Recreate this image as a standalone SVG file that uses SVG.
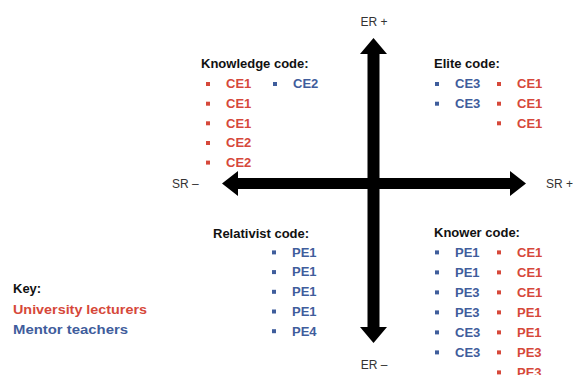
<svg xmlns="http://www.w3.org/2000/svg" width="573" height="375" viewBox="0 0 573 375">
<style>
text{font-family:"Liberation Sans",Arial,sans-serif;}
.h{font-weight:bold;font-size:13px;fill:#111;}
.ax{font-size:12px;fill:#333;}
.r{font-weight:bold;font-size:13px;fill:#D6483A;}
.b{font-weight:bold;font-size:13px;fill:#3F5D9C;}
.rb{fill:#D6483A;}
.bb{fill:#3F5D9C;}
.arrow{fill:#000;}
</style>
<rect width="573" height="375" fill="#fff"/>
<g id="connectors">
<path class="arrow" d="M373.5,38 L387,54 L379.5,54 L379.5,327 L387,327 L373.5,343 L360,327 L367.5,327 L367.5,54 L360,54 Z"/>
<path class="arrow" d="M222,183.5 L238,171 L238,178 L510,178 L510,171 L526,183.5 L510,196 L510,189 L238,189 L238,196 Z"/>
</g>
<g id="axis-labels">
<text class="ax" x="374" y="26" text-anchor="middle">ER +</text>
<text class="ax" x="374" y="369" text-anchor="middle">ER –</text>
<text class="ax" x="172" y="188">SR –</text>
<text class="ax" x="546" y="188">SR +</text>
</g>
<g id="knowledge-code">
<text class="h" x="201" y="68">Knowledge code:</text>
<rect class="rb" x="206" y="82" width="4" height="4"/><text class="r" x="226" y="88.3">CE1</text>
<rect class="bb" x="273" y="82" width="4" height="4"/><text class="b" x="293" y="88.3">CE2</text>
<rect class="rb" x="206" y="101.7" width="4" height="4"/><text class="r" x="226" y="108">CE1</text>
<rect class="rb" x="206" y="121.3" width="4" height="4"/><text class="r" x="226" y="127.6">CE1</text>
<rect class="rb" x="206" y="141" width="4" height="4"/><text class="r" x="226" y="147.3">CE2</text>
<rect class="rb" x="206" y="160.6" width="4" height="4"/><text class="r" x="226" y="166.9">CE2</text>
</g>
<g id="elite-code">
<text class="h" x="434" y="68">Elite code:</text>
<rect class="bb" x="435" y="82" width="4" height="4"/><text class="b" x="455" y="88.3">CE3</text>
<rect class="rb" x="497" y="82" width="4" height="4"/><text class="r" x="517" y="88.3">CE1</text>
<rect class="bb" x="435" y="101.7" width="4" height="4"/><text class="b" x="455" y="108">CE3</text>
<rect class="rb" x="497" y="101.7" width="4" height="4"/><text class="r" x="517" y="108">CE1</text>
<rect class="rb" x="497" y="121.3" width="4" height="4"/><text class="r" x="517" y="127.6">CE1</text>
</g>
<g id="relativist-code">
<text class="h" x="213" y="238">Relativist code:</text>
<rect class="bb" x="272" y="250.4" width="4" height="4"/><text class="b" x="292" y="256.7">PE1</text>
<rect class="bb" x="272" y="270.1" width="4" height="4"/><text class="b" x="292" y="276.4">PE1</text>
<rect class="bb" x="272" y="289.8" width="4" height="4"/><text class="b" x="292" y="296.1">PE1</text>
<rect class="bb" x="272" y="309.5" width="4" height="4"/><text class="b" x="292" y="315.8">PE1</text>
<rect class="bb" x="272" y="329.2" width="4" height="4"/><text class="b" x="292" y="335.5">PE4</text>
</g>
<g id="knower-code">
<text class="h" x="434" y="237">Knower code:</text>
<rect class="bb" x="435" y="250.4" width="4" height="4"/><text class="b" x="455" y="256.7">PE1</text>
<rect class="rb" x="497" y="250.4" width="4" height="4"/><text class="r" x="517" y="256.7">CE1</text>
<rect class="bb" x="435" y="270.4" width="4" height="4"/><text class="b" x="455" y="276.7">PE1</text>
<rect class="rb" x="497" y="270.4" width="4" height="4"/><text class="r" x="517" y="276.7">CE1</text>
<rect class="bb" x="435" y="290.4" width="4" height="4"/><text class="b" x="455" y="296.7">PE3</text>
<rect class="rb" x="497" y="290.4" width="4" height="4"/><text class="r" x="517" y="296.7">CE1</text>
<rect class="bb" x="435" y="310.4" width="4" height="4"/><text class="b" x="455" y="316.7">PE3</text>
<rect class="rb" x="497" y="310.4" width="4" height="4"/><text class="r" x="517" y="316.7">PE1</text>
<rect class="bb" x="435" y="330.4" width="4" height="4"/><text class="b" x="455" y="336.7">CE3</text>
<rect class="rb" x="497" y="330.4" width="4" height="4"/><text class="r" x="517" y="336.7">PE1</text>
<rect class="bb" x="435" y="350.4" width="4" height="4"/><text class="b" x="455" y="356.7">CE3</text>
<rect class="rb" x="497" y="350.4" width="4" height="4"/><text class="r" x="517" y="356.7">PE3</text>
<rect class="rb" x="497" y="370.4" width="4" height="4"/><text class="r" x="517" y="376.7">PE3</text>
</g>
<g id="key">
<text class="h" x="13" y="293">Key:</text>
<text class="r" x="13" y="314" textLength="134" lengthAdjust="spacingAndGlyphs">University lecturers</text>
<text class="b" x="13" y="334" textLength="115" lengthAdjust="spacingAndGlyphs">Mentor teachers</text>
</g>
</svg>
